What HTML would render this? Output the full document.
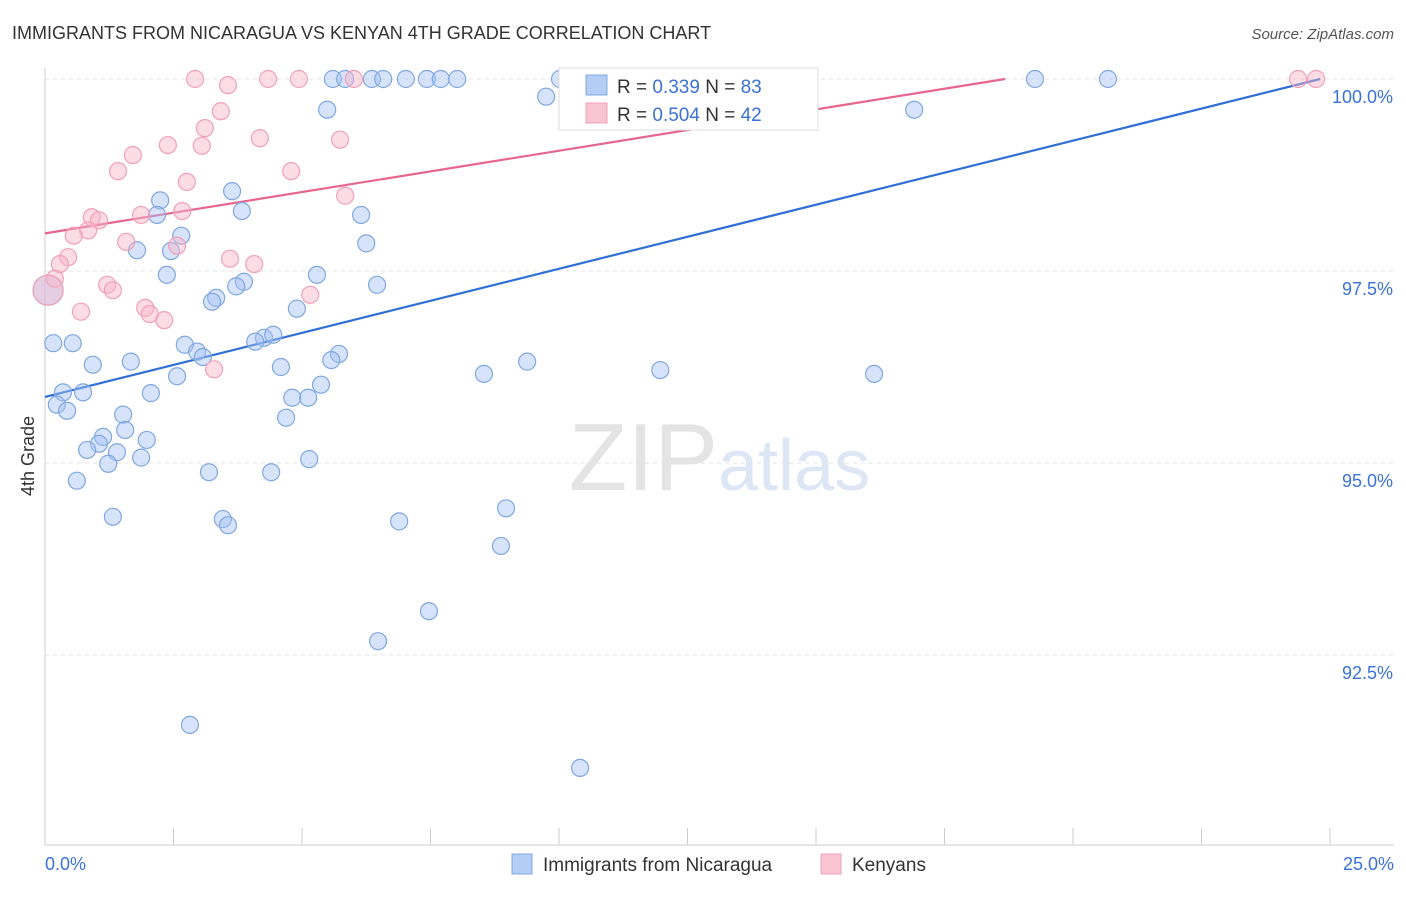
<!DOCTYPE html>
<html><head><meta charset="utf-8"><style>
body{margin:0;background:#fff;font-family:"Liberation Sans",sans-serif}
svg text{font-family:"Liberation Sans",sans-serif}
</style></head><body>
<svg id="chart" width="1406" height="892" xmlns="http://www.w3.org/2000/svg">
<text x="12" y="39" font-size="18" fill="#333">IMMIGRANTS FROM NICARAGUA VS KENYAN 4TH GRADE CORRELATION CHART</text>
<text x="1394" y="39" font-size="15" fill="#555" text-anchor="end" font-style="italic">Source: ZipAtlas.com</text>
<text x="718" y="490" font-size="96" fill="#e4e4e4" text-anchor="end" font-family="Liberation Serif">ZIP</text>
<text x="718" y="490" font-size="72" fill="#dce6f4">atlas</text>
<text transform="translate(34,456) rotate(-90)" font-size="18" fill="#333" text-anchor="middle">4th Grade</text>
<g id="grid"></g><g id="ticks"></g><g id="lines"></g><g id="points"></g>
<g>
<rect x="559" y="68" width="259" height="62" fill="#fff" stroke="#ddd"/>
<rect x="586" y="75" width="21" height="20" fill="#b4cdf5" stroke="#7fa8e0"/>
<text x="617" y="93" font-size="19" fill="#333">R = <tspan fill="#3a72d8">0.339</tspan>   N = <tspan fill="#3a72d8">83</tspan></text>
<rect x="586" y="103" width="21" height="20" fill="#f8c4d2" stroke="#f0a0b8"/>
<text x="617" y="121" font-size="19" fill="#333">R = <tspan fill="#3a72d8">0.504</tspan>   N = <tspan fill="#3a72d8">42</tspan></text>
</g>
<g>
<rect x="512" y="854" width="20" height="20" fill="#b4cdf5" stroke="#7fa8e0"/>
<text x="543" y="871" font-size="19" fill="#333">Immigrants from Nicaragua</text>
<rect x="821" y="854" width="20" height="20" fill="#f8c4d2" stroke="#f0a0b8"/>
<text x="852" y="871" font-size="19" fill="#333">Kenyans</text>
</g>
</svg>
<script>
const yTicks=[100,97.5,95,92.5];
const yTickLabels=["100.0%","97.5%","95.0%","92.5%"];
const xTickLabels=["0.0%","25.0%"];
const blueX=[5.60,5.84,6.36,6.58,7.02,7.43,7.70,8.02,10.02,19.26,20.68,9.75,5.49,16.91,3.64,2.24,3.83,2.18,6.15,2.65,6.25,1.79,2.45,5.29,2.37,3.87,3.72,6.46,3.33,3.25,4.90,0.16,0.54,4.26,4.44,4.09,2.72,2.96,3.07,5.72,5.57,0.93,1.67,4.59,9.38,8.54,11.97,16.13,2.57,5.37,0.35,0.74,2.06,4.81,5.12,0.23,0.43,1.52,4.69,1.56,1.13,1.05,1.98,0.82,1.40,1.87,1.23,5.14,3.19,4.40,0.62,8.97,1.32,3.46,3.56,6.89,8.87,7.47,6.48,2.82,10.41,0.06];
const blueY=[100,100,100,100,100,100,100,100,100,100,100,99.77,99.60,99.60,98.54,98.42,98.28,98.23,98.23,97.96,97.86,97.77,97.76,97.45,97.45,97.36,97.30,97.32,97.15,97.10,97.01,96.56,96.56,96.63,96.67,96.58,96.54,96.45,96.38,96.42,96.34,96.28,96.32,96.25,96.32,96.16,96.21,96.16,96.13,96.02,95.92,95.92,95.91,95.85,95.85,95.76,95.68,95.63,95.59,95.43,95.34,95.25,95.30,95.17,95.14,95.07,94.99,95.05,94.88,94.88,94.77,94.41,94.30,94.27,94.19,94.24,93.92,93.07,92.68,91.59,91.03,97.25];
const pinkX=[2.92,3.56,4.34,4.94,6.01,10.35,24.38,24.73,3.42,3.11,4.18,5.74,3.05,2.39,1.71,1.42,4.79,2.76,5.84,2.67,0.91,1.05,1.87,0.84,0.56,1.58,2.57,0.45,0.29,3.60,4.07,0.19,1.21,1.32,5.16,0.06,1.95,2.04,0.70,2.32,3.29];
const pinkY=[100,99.92,100,100,100,100,100,100,99.58,99.36,99.23,99.21,99.13,99.14,99.01,98.80,98.80,98.66,98.48,98.28,98.20,98.16,98.23,98.03,97.96,97.88,97.83,97.68,97.59,97.66,97.59,97.40,97.32,97.25,97.19,97.25,97.02,96.94,96.97,96.86,96.22];
const blueLine=[[0,95.86],[24.81,100]];
const pinkLine=[[0,97.99],[18.68,100]];
const NS="http://www.w3.org/2000/svg";
const sx=v=>45+v/25*1285;
const sy=v=>79+(100-v)/2.5*192;
function mk(tag,attrs,parent){const e=document.createElementNS(NS,tag);for(const k in attrs)e.setAttribute(k,attrs[k]);document.getElementById(parent).appendChild(e);return e;}
yTicks.forEach((t,i)=>{
 const g=mk('line',{x1:45,x2:1394,y1:sy(t),y2:sy(t),stroke:'#e3e3e3','stroke-dasharray':'4,4'},'grid');
 
 
 const l=mk('text',{x:1393,y:sy(t)+24,'font-size':18,fill:'#3a72d8','text-anchor':'end'},'ticks');
 l.textContent=yTickLabels[i];
 
 
});
const ax=mk('line',{x1:45,x2:45,y1:68,y2:845,stroke:'#ccc'},'ticks');


const bx=mk('line',{x1:45,x2:1394,y1:845,y2:845,stroke:'#ccc'},'ticks');


for(let i=0;i<=10;i++){const t=mk('line',{x1:sx(i*2.5),x2:sx(i*2.5),y1:828,y2:845,stroke:'#ccc'},'ticks');
 
 }
[[0,'start',45],[25,'end',1394]].forEach((d,i)=>{const l=mk('text',{x:d[2],y:870,'font-size':18,fill:'#3a72d8','text-anchor':d[1]},'ticks');l.textContent=xTickLabels[i];
 
 });
function pts(X,Y,fill,stroke,name){X.forEach((x,i)=>{const big=(i===X.length-1&&name==='point-nicaragua')||(name==='point-kenyans'&&i===35);
 const c=mk('circle',{cx:sx(x),cy:sy(Y[i]),r:big?15:8.5,fill:fill,stroke:stroke,'stroke-width':1.2},'points');
 
 });}
pts(blueX,blueY,'rgba(164,194,244,0.45)','#7fa8e0','point-nicaragua');
pts(pinkX,pinkY,'rgba(248,180,200,0.45)','#f0a0b8','point-kenyans');
const bl=mk('line',{x1:sx(blueLine[0][0]),y1:sy(blueLine[0][1]),x2:sx(blueLine[1][0]),y2:sy(blueLine[1][1]),stroke:'#2f6fd6','stroke-width':2.2},'lines');


const pl=mk('line',{x1:sx(pinkLine[0][0]),y1:sy(pinkLine[0][1]),x2:sx(pinkLine[1][0]),y2:sy(pinkLine[1][1]),stroke:'#e8668e','stroke-width':2.2},'lines');


</script>
</body></html>
